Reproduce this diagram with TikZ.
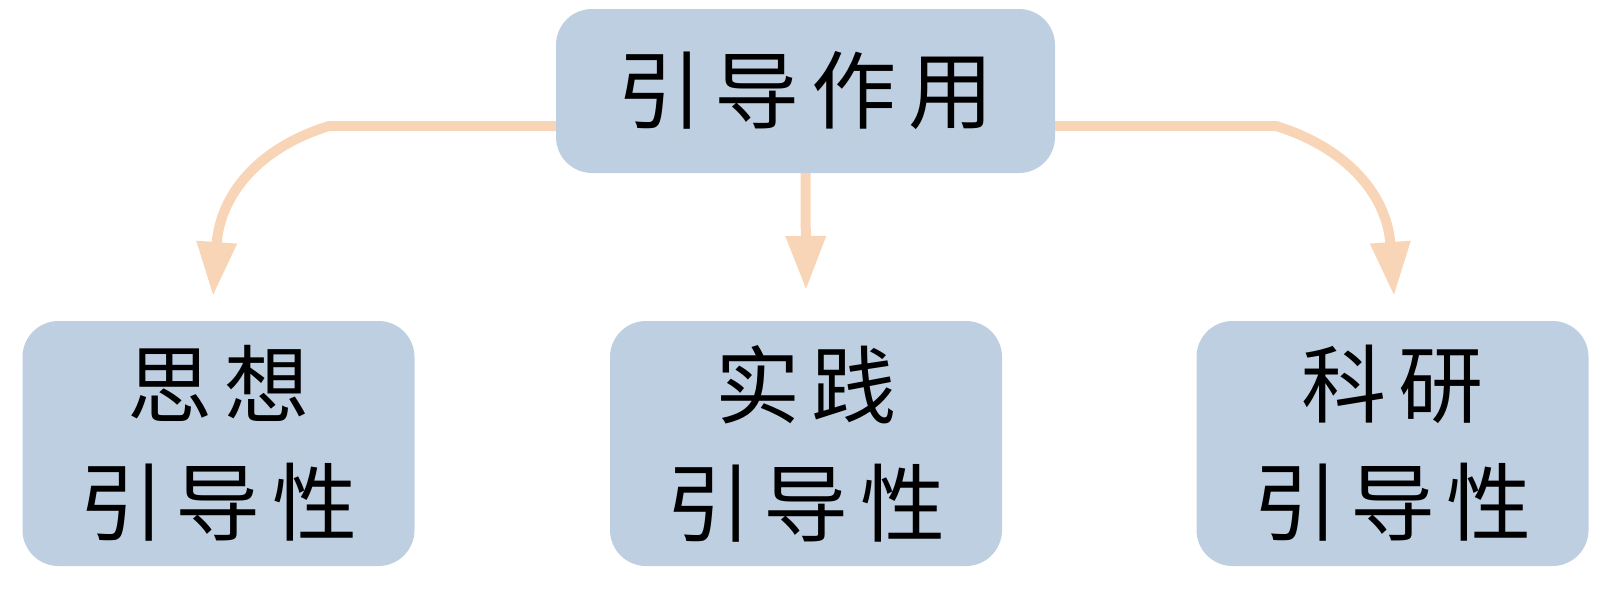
\documentclass[tikz,border=0pt]{standalone}
\usepackage{fontspec}
\newfontfamily\cjk{Noto Sans CJK SC}
\usetikzlibrary{arrows.meta}
\definecolor{boxfill}{HTML}{BFCFE2}
\definecolor{arrowc}{HTML}{F9D5B8}
\newcommand{\gapch}{\hspace{12pt}}
\tikzset{
  box/.style={rectangle, rounded corners=36pt, fill=boxfill, inner sep=0pt, align=center,
    font=\cjk\fontsize{85pt}{118pt}\selectfont},
  topbox/.style={box, minimum width=499pt, minimum height=164pt},
  botbox/.style={box, minimum width=392pt, minimum height=245pt},
  conn/.style={draw=arrowc, line width=10pt, -{Triangle[width=38pt,length=54pt]}}
}
\begin{document}
\begin{tikzpicture}[x=1pt,y=-1pt]
\useasboundingbox (0,0) rectangle (1613,613);
\node[topbox] (top) at (805.5,91) {引\gapch 导\gapch 作\gapch 用};
\node[botbox] (left) at (218.5,443.5) {思\gapch 想\\引\gapch 导\gapch 性};
\node[botbox] (mid) at (806,443.5) {实\gapch 践\\引\gapch 导\gapch 性};
\node[botbox] (right) at (1392.5,443.5) {科\gapch 研\\引\gapch 导\gapch 性};
\coordinate (lk) at (329,126);
\coordinate (rk) at (1276,126);
\coordinate (lt) at (213,296);
\coordinate (mt) at (806,290);
\coordinate (rt) at (1394,296);
\draw[conn] (top.west |- lk) -- (lk) .. controls (258,148) and (220,195) .. (lt);
\draw[conn] (top.east |- rk) -- (rk) .. controls (1347,148) and (1387,195) .. (rt);
\draw[conn] (top.south) -- (mt);
\end{tikzpicture}
\end{document}
